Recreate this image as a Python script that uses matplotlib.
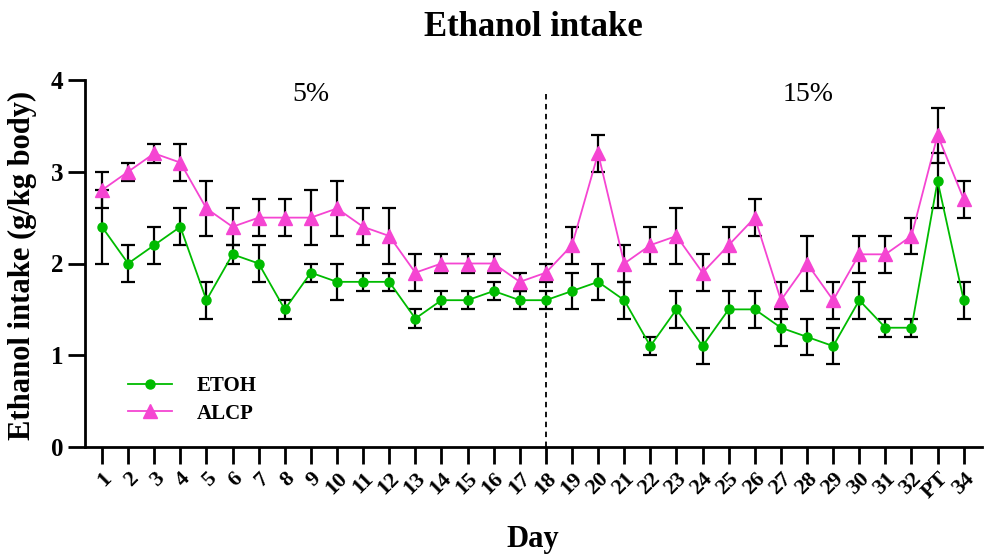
import matplotlib
matplotlib.use("Agg")
import matplotlib.pyplot as plt
import numpy as np

plt.rcParams['font.family'] = ['Liberation Serif', 'DejaVu Serif']

day_labels = [str(i) for i in range(1, 33)] + ["PT", "34"]

etoh_mean = [2.4, 2.0, 2.2, 2.4, 1.6, 2.1, 2.0, 1.5, 1.9, 1.8, 1.8, 1.8, 1.4, 1.6, 1.6, 1.7, 1.6,
             1.6, 1.7, 1.8, 1.6, 1.1, 1.5, 1.1, 1.5, 1.5, 1.3, 1.2, 1.1, 1.6, 1.3, 1.3, 2.9, 1.6]
etoh_err = [0.4, 0.2, 0.2, 0.2, 0.2, 0.1, 0.2, 0.1, 0.1, 0.2, 0.1, 0.1, 0.1, 0.1, 0.1, 0.1, 0.1,
            0.1, 0.2, 0.2, 0.2, 0.1, 0.2, 0.2, 0.2, 0.2, 0.2, 0.2, 0.2, 0.2, 0.1, 0.1, 0.3, 0.2]

alcp_mean = [2.8, 3.0, 3.2, 3.1, 2.6, 2.4, 2.5, 2.5, 2.5, 2.6, 2.4, 2.3, 1.9, 2.0, 2.0, 2.0, 1.8,
             1.9, 2.2, 3.2, 2.0, 2.2, 2.3, 1.9, 2.2, 2.5, 1.6, 2.0, 1.6, 2.1, 2.1, 2.3, 3.4, 2.7]
alcp_err = [0.2, 0.1, 0.1, 0.2, 0.3, 0.2, 0.2, 0.2, 0.3, 0.3, 0.2, 0.3, 0.2, 0.1, 0.1, 0.1, 0.1,
            0.1, 0.2, 0.2, 0.2, 0.2, 0.3, 0.2, 0.2, 0.2, 0.2, 0.3, 0.2, 0.2, 0.2, 0.2, 0.3, 0.2]

phase_labels = ["5%", "15%"]
split_day = 18

green = "#00BB00"
pink = "#F545D2"

W, H = 991, 556
fig = plt.figure(figsize=(W / 100, H / 100), dpi=100)
ax = fig.add_axes([85 / W, 1 - 447 / H, (982 - 85) / W, (447 - 80) / H])

x = np.arange(1, len(day_labels) + 1)

ax.errorbar(x, alcp_mean, yerr=alcp_err, fmt='none', ecolor='black', elinewidth=1.6,
            capsize=5, capthick=1.6, zorder=2)
ax.errorbar(x, etoh_mean, yerr=etoh_err, fmt='none', ecolor='black', elinewidth=1.6,
            capsize=5, capthick=1.6, zorder=2)
ax.plot(x, etoh_mean, color=green, lw=1.3, marker='o', ms=6.5, mfc=green, mec=green,
        label="ETOH", zorder=3)
ax.plot(x, alcp_mean, color=pink, lw=1.3, marker='^', ms=10, mfc=pink, mec=pink,
        label="ALCP", zorder=3)

ax.axvline(split_day, ymin=0, ymax=3.86 / 4.0, color='black', ls=(0, (3, 2.5)), lw=1.3, zorder=1)

ax.set_xlim(0.35, 34.7)
ax.set_ylim(0, 4)
ax.set_yticks([0, 1, 2, 3, 4])
ax.set_xticks(x)
ax.set_xticklabels(day_labels, rotation=45, ha='right', va='top', rotation_mode='anchor',
                   fontweight='bold', fontsize=16)
for lab in ax.get_yticklabels():
    lab.set_fontweight('bold')
    lab.set_fontsize(18)

for s in ['top', 'right']:
    ax.spines[s].set_visible(False)
for s in ['left', 'bottom']:
    ax.spines[s].set_linewidth(2)
ax.tick_params(axis='both', width=2, length=12.5, direction='out')
ax.tick_params(axis='x', pad=3)
ax.tick_params(axis='y', pad=3)

fig.text(533 / W, 1 - 27 / H, "Ethanol intake", fontsize=25, fontweight='bold',
         ha='center', va='center')
fig.text(22 / W, 1 - 265 / H, "Ethanol intake (g/kg body)", fontsize=22, fontweight='bold',
         ha='center', va='center', rotation=90)
fig.text(533 / W, 1 - 539 / H, "Day", fontsize=22, fontweight='bold', ha='center', va='center')

ax.text(9.0, 3.84, phase_labels[0], fontsize=20, ha='center', va='center')
ax.text(28.05, 3.84, phase_labels[1], fontsize=20, ha='center', va='center')

leg = ax.legend(loc='upper left', bbox_to_anchor=(35 / 897, (447 - 368) / 367), frameon=False,
                prop={'weight': 'bold', 'size': 15}, handlelength=2.1, handletextpad=1.2,
                labelspacing=0.35, borderaxespad=0)

fig.savefig("out.png", dpi=100)
